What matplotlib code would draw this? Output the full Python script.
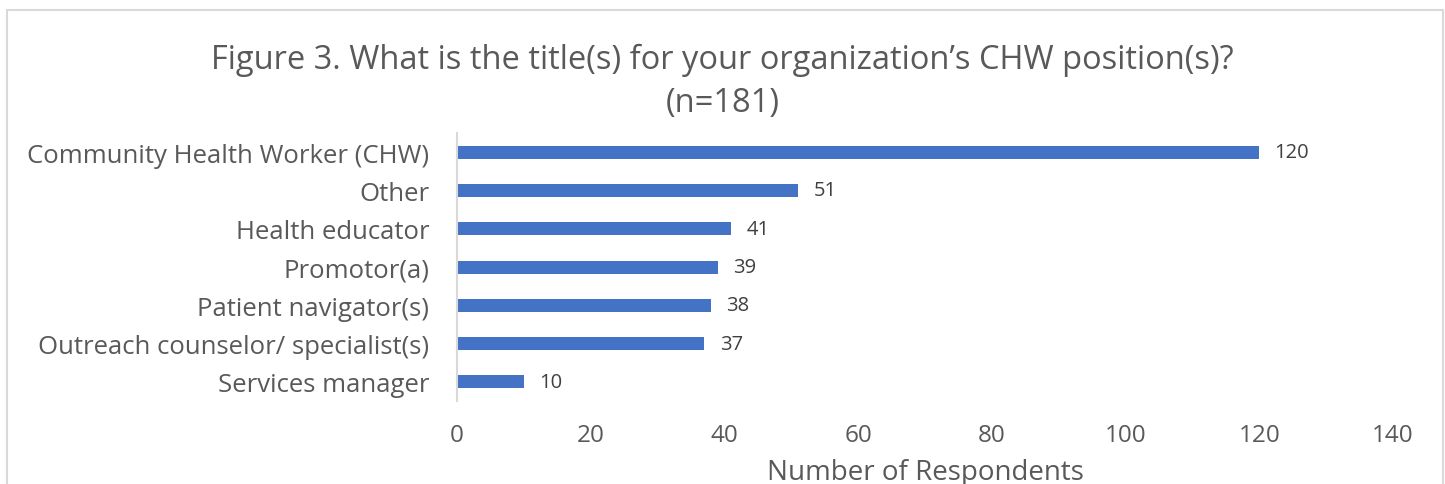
import matplotlib
matplotlib.use("Agg")
import matplotlib.pyplot as plt
from matplotlib.patches import Rectangle

# Categories and counts (top to bottom as shown)
categories = [
    "Community Health Worker (CHW)",
    "Other",
    "Health educator",
    "Promotor(a)",
    "Patient navigator(s)",
    "Outreach counselor/ specialist(s)",
    "Services manager",
]
counts = [120, 51, 41, 39, 38, 37, 10]
x_ticks = [0, 20, 40, 60, 80, 100, 120, 140]

title = "Figure 3. What is the title(s) for your organization\u2019s CHW position(s)?\n(n=181)"
xlabel = "Number of Respondents"

plt.rcParams["font.family"] = ["Open Sans", "DejaVu Sans"]
text_color = "#595959"
bar_color = "#4472C4"

fig = plt.figure(figsize=(14.45, 4.85), dpi=100)
ax = fig.add_axes([0.3163, 0.1711, 0.6477, 0.5526])

# Outer chart border
fig.patches.append(Rectangle((0.005, -0.05), 0.9935, 1.027, transform=fig.transFigure,
                             fill=False, edgecolor="#D9D9D9", linewidth=1.5))

ypos = list(range(len(categories)))
ax.barh(ypos, counts, height=0.34, color=bar_color)
ax.set_ylim(len(categories) - 0.5, -0.5)
ax.set_xlim(0, 140)
ax.set_yticks(ypos)
ax.set_yticklabels(categories, fontsize=18.5, color=text_color)
ax.set_xticks(x_ticks)
ax.set_xticklabels([str(t) for t in x_ticks], fontsize=17.5, color=text_color)
ax.tick_params(axis="both", length=0)
ax.tick_params(axis="y", pad=20)
ax.tick_params(axis="x", pad=16)

for s in ["top", "right", "bottom"]:
    ax.spines[s].set_visible(False)
ax.spines["left"].set_color("#D9D9D9")
ax.spines["left"].set_linewidth(1.5)

for y, v in zip(ypos, counts):
    ax.text(v + 2.3, y, str(v), va="center", ha="left", fontsize=14.5, color="#404040")

ax.set_xlabel(xlabel, fontsize=20, color=text_color, labelpad=8)

fig.text(0.5, 0.752, title, ha="center", va="bottom", fontsize=23.5, color=text_color,
         linespacing=1.4)

fig.savefig("out.png", dpi=100)
